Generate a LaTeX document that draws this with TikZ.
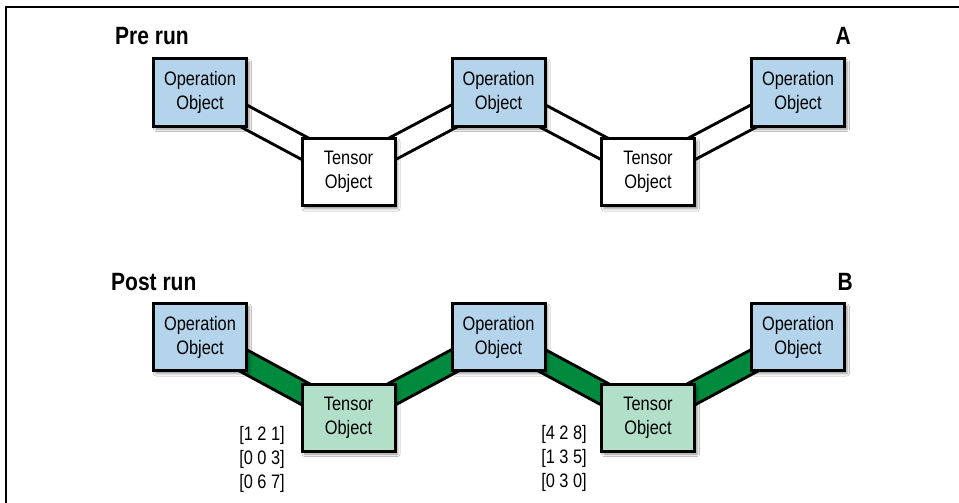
\documentclass[tikz,border=0pt]{standalone}
\usepackage{fontspec}
\setmainfont{Liberation Sans}[FakeStretch=0.84]
\newfontfamily\titlefont{Liberation Sans}[FakeStretch=0.84]
\usetikzlibrary{shadows.blur}
\definecolor{opblue}{RGB}{180,212,235}
\definecolor{tgreen}{RGB}{178,223,200}
\definecolor{bandgreen}{RGB}{0,138,62}
\tikzset{
  box/.style={draw=black, line width=3pt, minimum width=93pt, minimum height=67pt,
    inner sep=0pt, align=center, font=\fontsize{19.5}{24}\selectfont,
    blur shadow={shadow xshift=2.5pt, shadow yshift=-3pt, shadow blur radius=2.5pt, shadow opacity=45}},
  opbox/.style={box, fill=opblue},
  tbox/.style={box, fill=white},
  tboxg/.style={box, fill=tgreen},
  emptyband/.style={line width=3pt, draw=black, double=white, double distance=19pt},
  fullband/.style={line width=3pt, draw=black, double=bandgreen, double distance=19pt},
  title/.style={font=\titlefont\bfseries\fontsize{25}{28}\selectfont, inner sep=0pt},
  mat/.style={align=right, inner sep=0pt, font=\fontsize{19.5}{24}\selectfont}
}
\begin{document}
\begin{tikzpicture}[x=1pt,y=-1pt]
\useasboundingbox (0,0) rectangle (959,503);
\fill[white] (0,0) rectangle (959,503);
\coordinate (fa) at (6,503);
\coordinate (fb) at (6,7);
\coordinate (fc) at (959,7);
\draw[line width=2pt] (fa) -- (fb) -- (fc);

\node[title, anchor=base west] (pre) at (115,45) {Pre run};
\node[title, anchor=base east] (la) at (851,45) {A};
\node[title, anchor=base west] (post) at (111,290) {Post run};
\node[title, anchor=base east] (lb) at (853,290) {B};

% top row
\coordinate (a1) at (200,92.5);
\coordinate (a2) at (348.5,172);
\coordinate (a3) at (498.5,92.5);
\coordinate (a4) at (648,172);
\coordinate (a5) at (798,92.5);
\draw[emptyband] (a1) -- (a2);
\draw[emptyband] (a2) -- (a3);
\draw[emptyband] (a3) -- (a4);
\draw[emptyband] (a4) -- (a5);
\node[opbox] (o1) at (a1) {Operation\\Object};
\node[tbox] (t1) at (a2) {Tensor\\Object};
\node[opbox] (o2) at (a3) {Operation\\Object};
\node[tbox] (t2) at (a4) {Tensor\\Object};
\node[opbox] (o3) at (a5) {Operation\\Object};

% bottom row
\coordinate (b1) at (200,337);
\coordinate (b2) at (348.5,417.5);
\coordinate (b3) at (498.5,337);
\coordinate (b4) at (648,417.5);
\coordinate (b5) at (798,337);
\draw[fullband] (b1) -- (b2);
\draw[fullband] (b2) -- (b3);
\draw[fullband] (b3) -- (b4);
\draw[fullband] (b4) -- (b5);
\node[opbox] (p1) at (b1) {Operation\\Object};
\node[tboxg] (u1) at (b2) {Tensor\\Object};
\node[opbox] (p2) at (b3) {Operation\\Object};
\node[tboxg] (u2) at (b4) {Tensor\\Object};
\node[opbox] (p3) at (b5) {Operation\\Object};

\node[mat, anchor=base east] (m1) at (285,488) {{[1 2 1]}\\{[0 0 3]}\\{[0 6 7]}};
\node[mat, anchor=base east] (m2) at (587,487) {{[4 2 8]}\\{[1 3 5]}\\{[0 3 0]}};
\end{tikzpicture}
\end{document}
